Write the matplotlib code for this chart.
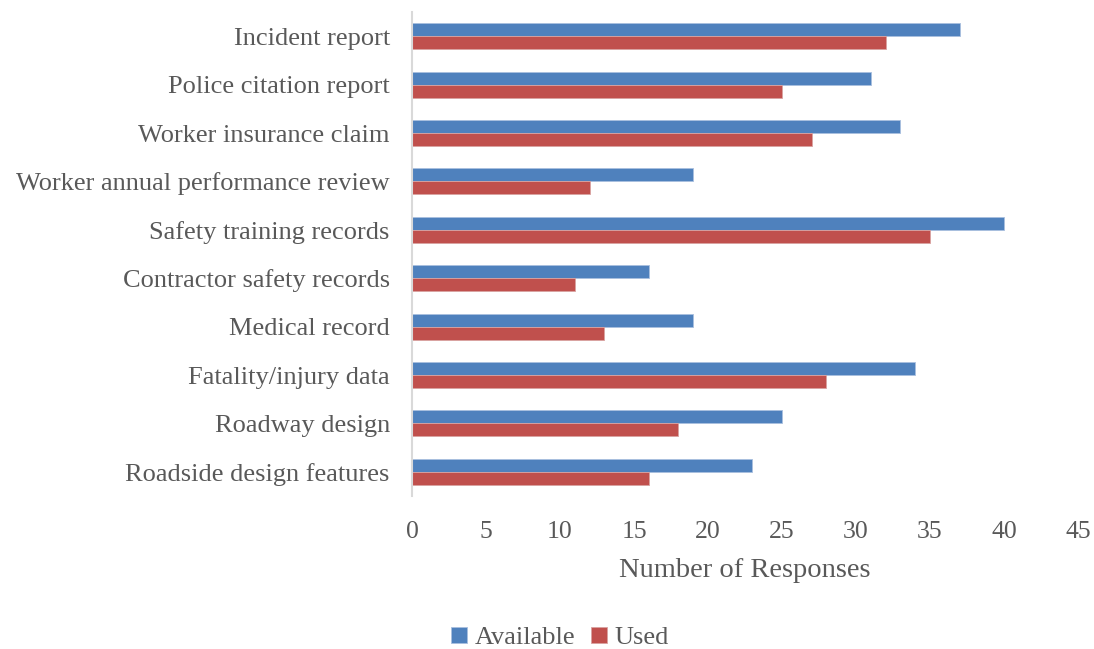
import matplotlib.pyplot as plt
import numpy as np

categories = ["Incident report", "Police citation report", "Worker insurance claim",
              "Worker annual performance review", "Safety training records",
              "Contractor safety records", "Medical record", "Fatality/injury data",
              "Roadway design", "Roadside design features"]
available = [37, 31, 33, 19, 40, 16, 19, 34, 25, 23]
used = [32, 25, 27, 12, 35, 11, 13, 28, 18, 16]

plt.rcParams['font.family'] = ['Liberation Serif', 'DejaVu Serif']
text_color = "#595959"

fig = plt.figure(figsize=(10.94, 6.49), dpi=100)
ax = fig.add_axes([412 / 1094, 1 - 496 / 649, 666 / 1094, 484 / 649])

y = np.arange(len(categories))
h = 0.27
ax.barh(y - h / 2, available, height=h, color="#4F81BD", edgecolor="#a9bfdf",
        linewidth=0.6, label="Available")
ax.barh(y + h / 2, used, height=h, color="#C0504D", edgecolor="#d9a3a1",
        linewidth=0.6, label="Used")

ax.set_ylim(len(categories) - 0.5, -0.5)
ax.set_xlim(0, 45)
ax.set_xticks(range(0, 46, 5))
ax.set_yticks(y)
ax.set_yticklabels(categories)

for s in ["top", "right", "bottom"]:
    ax.spines[s].set_visible(False)
ax.spines["left"].set_color("#d9d9d9")
ax.spines["left"].set_linewidth(1.5)
ax.tick_params(axis="x", length=0, labelsize=18.5, labelcolor=text_color, pad=18)
ax.tick_params(axis="y", length=0, labelsize=19, labelcolor=text_color, pad=16)

ax.set_xlabel("Number of Responses", fontsize=20.5, color=text_color, labelpad=11)

fig.legend(loc="center", bbox_to_anchor=(0.512, 1 - 638 / 649), ncol=2, frameon=False,
           fontsize=19, labelcolor=text_color, handlelength=0.6, handleheight=0.6,
           handletextpad=0.3, columnspacing=0.6)

fig.savefig("out.png", dpi=100)
